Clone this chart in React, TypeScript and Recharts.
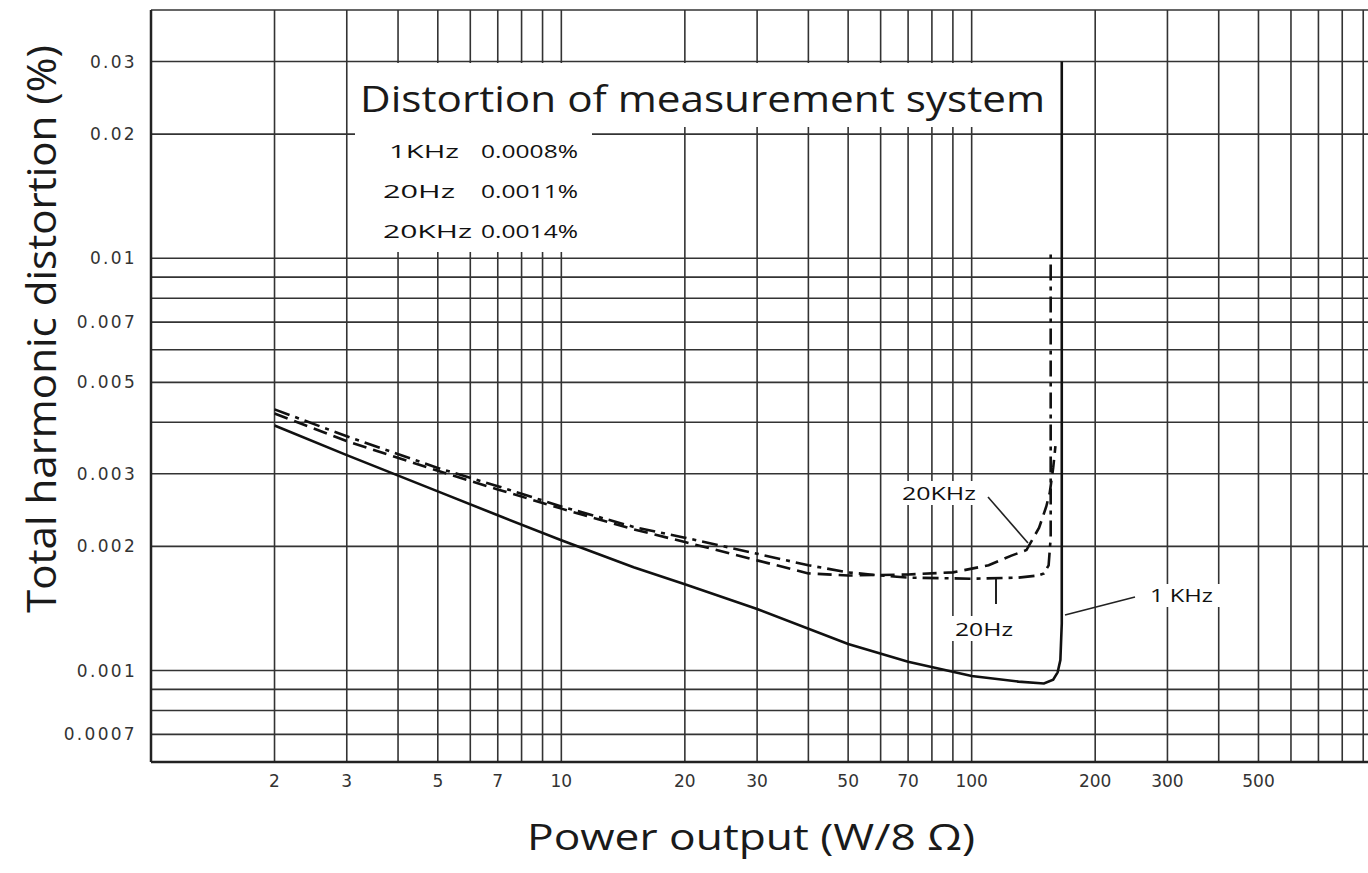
import React from 'react';
import { LineChart, Line, XAxis, YAxis, CartesianGrid, Customized } from 'recharts';

// Power output (W/8Ω) and THD (%) per series
const khz1Power = [2, 3, 5, 7, 10, 15, 20, 30, 50, 70, 100, 130, 150, 158, 162, 164.5, 165.8, 165.8];
const khz1Thd = [0.00393, 0.00333, 0.00272, 0.00238, 0.00207, 0.00178, 0.00162, 0.00141, 0.00116, 0.00105, 0.00097, 0.00094, 0.00093, 0.00095, 0.00099, 0.00106, 0.0013, 0.03];

const hz20Power = [2, 3, 5, 7, 10, 15, 20, 30, 40, 50, 60, 70, 100, 130, 145, 150, 154, 155.8, 155.8];
const hz20Thd = [0.0043, 0.0037, 0.0031, 0.0028, 0.0025, 0.00223, 0.0021, 0.00192, 0.0018, 0.00173, 0.0017, 0.00168, 0.00167, 0.00168, 0.0017, 0.00172, 0.0018, 0.0021, 0.0105];

const khz20Power = [2, 3, 5, 7, 10, 15, 20, 30, 40, 50, 70, 90, 110, 125, 136, 146, 152, 155, 158, 160];
const khz20Thd = [0.0042, 0.0036, 0.00305, 0.00275, 0.00247, 0.0022, 0.00205, 0.00185, 0.00172, 0.0017, 0.00171, 0.00173, 0.0018, 0.0019, 0.00196, 0.00222, 0.0025, 0.0027, 0.0031, 0.0035];

const xGridTicks = [2, 3, 4, 5, 6, 7, 8, 9, 10, 20, 30, 40, 50, 60, 70, 80, 90, 100, 200, 300, 400, 500, 600, 700, 800, 900];
const xLabelTicks = [2, 3, 5, 7, 10, 20, 30, 50, 70, 100, 200, 300, 500];
const yGridTicks = [0.0007, 0.0008, 0.0009, 0.001, 0.002, 0.003, 0.004, 0.005, 0.006, 0.007, 0.008, 0.009, 0.01, 0.02, 0.03, 0.04];
const yLabelTicks = [0.0007, 0.001, 0.002, 0.003, 0.005, 0.007, 0.01, 0.02, 0.03];

const systemRows = [
  { freq: '1KHz', value: '0.0008%', w: 70, x: 389 },
  { freq: '20Hz', value: '0.0011%', w: 72, x: 383 },
  { freq: '20KHz', value: '0.0014%', w: 89, x: 383 },
];

const zip = (xs: number[], ys: number[]) => xs.map((x, i) => ({ x, y: ys[i] }));
const khz1Data = zip(khz1Power, khz1Thd);
const hz20Data = zip(hz20Power, hz20Thd);
const khz20Data = zip(khz20Power, khz20Thd);

const FONT = '"Open Sans", "DejaVu Sans", sans-serif';
const TICK_FONT = '"DejaVu Sans", sans-serif';

const Annotations = () => (
  <g>
    {/* white paper behind the title block */}
    <rect x={355} y={63} width={700} height={64} fill="#fff" />
    <rect x={355} y={126} width={237} height={126} fill="#fff" />
    <rect x={897} y={481} width={84} height={24} fill="#fff" />
    <rect x={950} y={616} width={68} height={25} fill="#fff" />
    <rect x={1143} y={584} width={78} height={23} fill="#fff" />

    <text x={360} y={112} fontFamily={FONT} fontSize={37} fill="#1a1a1a" textLength={685} lengthAdjust="spacingAndGlyphs">
      Distortion of measurement system
    </text>
    {systemRows.map((r, i) => (
      <g key={r.freq}>
        <text x={r.x} y={158 + i * 40} fontFamily={FONT} fontSize={18} fill="#111" textLength={r.w} lengthAdjust="spacingAndGlyphs">{r.freq}</text>
        <text x={481} y={158 + i * 40} fontFamily={FONT} fontSize={18} fill="#111" textLength={97} lengthAdjust="spacingAndGlyphs">{r.value}</text>
      </g>
    ))}

    <text x={902} y={500} fontFamily={FONT} fontSize={18} fill="#111" textLength={74} lengthAdjust="spacingAndGlyphs">20KHz</text>
    <line x1={988} y1={497} x2={1028} y2={543} stroke="#222" strokeWidth={1.6} />
    <text x={955} y={636} fontFamily={FONT} fontSize={18} fill="#111" textLength={58} lengthAdjust="spacingAndGlyphs">20Hz</text>
    <line x1={996} y1={578} x2={996} y2={604} stroke="#222" strokeWidth={2} />
    <text x={1150} y={602} fontFamily={FONT} fontSize={18} fill="#111" textLength={63} lengthAdjust="spacingAndGlyphs">1 KHz</text>
    <line x1={1065} y1={615} x2={1135} y2={597} stroke="#222" strokeWidth={1.6} />

    <text
      transform="translate(56,329) rotate(-90)"
      x={0}
      y={0}
      textAnchor="middle"
      fontFamily={FONT}
      fontSize={40}
      fill="#1a1a1a"
      textLength={568}
      lengthAdjust="spacingAndGlyphs"
    >
      Total harmonic distortion (%)
    </text>
    <text x={527} y={850} fontFamily={FONT} fontSize={37} fill="#1a1a1a" textLength={448} lengthAdjust="spacingAndGlyphs">
      Power output (W/8 Ω)
    </text>
  </g>
);

export default function App() {
  return (
    <div style={{ position: 'absolute', left: 0, top: 0, width: 1368, height: 873, overflow: 'hidden', background: '#fff' }}>
      <LineChart width={1390} height={873} margin={{ top: 10, right: 8, left: 0, bottom: 0 }}>
        <CartesianGrid stroke="#333" strokeWidth={1.6} />
        <XAxis
          dataKey="x"
          type="number"
          scale="log"
          domain={[1, 1000]}
          allowDataOverflow
          ticks={xGridTicks}
          interval={0}
          height={111}
          tickLine={false}
          tickSize={0}
          tickMargin={13}
          axisLine={{ stroke: '#222', strokeWidth: 2.5 }}
          tick={{ fontFamily: TICK_FONT, fontSize: 17, fill: '#333' }}
          tickFormatter={(v: number) => (xLabelTicks.includes(v) ? String(v) : '')}
        />
        <YAxis
          dataKey="y"
          type="number"
          scale="log"
          domain={[0.0006, 0.04]}
          allowDataOverflow
          ticks={yGridTicks}
          interval={0}
          width={151}
          tickLine={false}
          tickSize={0}
          tickMargin={14}
          axisLine={{ stroke: '#222', strokeWidth: 2.5 }}
          tick={{ fontFamily: TICK_FONT, fontSize: 17, fill: '#333', letterSpacing: 2.3 }}
          tickFormatter={(v: number) => (yLabelTicks.includes(v) ? String(v) : '')}
        />
        <Customized component={Annotations} />
        <Line data={khz1Data} dataKey="y" type="linear" stroke="#111" strokeWidth={2.6} dot={false} isAnimationActive={false} />
        <Line data={hz20Data} dataKey="y" type="linear" stroke="#111" strokeWidth={2.6} strokeDasharray="16 6 4 6" dot={false} isAnimationActive={false} />
        <Line data={khz20Data} dataKey="y" type="linear" stroke="#111" strokeWidth={2.6} strokeDasharray="14 7" dot={false} isAnimationActive={false} />
      </LineChart>
    </div>
  );
}
